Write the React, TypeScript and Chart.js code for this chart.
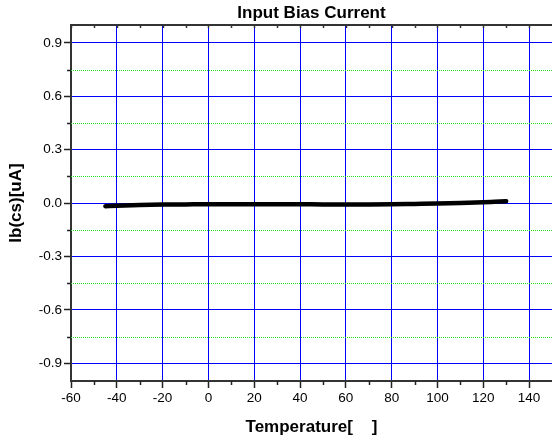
import React, { useEffect, useRef } from "react";
import { Chart, registerables } from "chart.js";

Chart.register(...registerables);

const temperatures = [-45, -40, -30, -20, -10, 0, 10, 20, 30, 40, 50, 60, 70, 80, 90, 100, 110, 120, 125, 130];
const biasCurrent = [-0.018, -0.015, -0.011, -0.009, -0.008, -0.007, -0.007, -0.007, -0.007, -0.007, -0.008, -0.008, -0.008, -0.007, -0.005, -0.003, 0.0, 0.004, 0.007, 0.01];

const xMajorTicks = [-60, -40, -20, 0, 20, 40, 60, 80, 100, 120, 140];
const xMinorTicks = [-50, -30, -10, 10, 30, 50, 70, 90, 110, 130];
const yMajorTicks = [-0.9, -0.6, -0.3, 0.0, 0.3, 0.6, 0.9];
const yMinorTicks = [-0.75, -0.45, -0.15, 0.15, 0.45, 0.75];
const yTickLabels = ["-0.9", "-0.6", "-0.3", "0.0", "0.3", "0.6", "0.9"];

const FONT = "Arial, 'Liberation Sans', sans-serif";

const minorPlugin = {
  id: "minorDecor",
  beforeDatasetsDraw(chart: any) {
    const { ctx, chartArea } = chart;
    const xs = chart.scales.x;
    const ys = chart.scales.y;
    ctx.save();
    // green dotted minor grid lines
    ctx.strokeStyle = "#22e022";
    ctx.lineWidth = 1;
    ctx.setLineDash([1, 1]);
    for (const v of yMinorTicks) {
      const y = Math.round(ys.getPixelForValue(v)) + 0.5;
      ctx.beginPath();
      ctx.moveTo(chartArea.left, y);
      ctx.lineTo(chartArea.right, y);
      ctx.stroke();
    }
    ctx.setLineDash([]);
    // minor ticks on left axis
    ctx.strokeStyle = "#222";
    ctx.lineWidth = 1.5;
    for (const v of yMinorTicks) {
      const y = Math.round(ys.getPixelForValue(v)) + 0.5;
      ctx.beginPath();
      ctx.moveTo(chartArea.left - 4, y);
      ctx.lineTo(chartArea.left, y);
      ctx.stroke();
    }
    // minor ticks on bottom axis
    for (const v of xMinorTicks) {
      const x = Math.round(xs.getPixelForValue(v)) + 0.5;
      ctx.beginPath();
      ctx.moveTo(x, chartArea.bottom);
      ctx.lineTo(x, chartArea.bottom + 4);
      ctx.stroke();
    }
    // top border with inward ticks
    ctx.strokeStyle = "#333";
    ctx.lineWidth = 2;
    ctx.beginPath();
    ctx.moveTo(chartArea.left - 1, chartArea.top);
    ctx.lineTo(chartArea.right, chartArea.top);
    ctx.stroke();
    ctx.lineWidth = 1.5;
    const allTop = [...xMajorTicks, ...xMinorTicks];
    for (const v of allTop) {
      const x = Math.round(xs.getPixelForValue(v)) + 0.5;
      ctx.beginPath();
      ctx.moveTo(x, chartArea.top);
      ctx.lineTo(x, chartArea.top + 3);
      ctx.stroke();
    }
    ctx.restore();
  },
};

export default function App() {
  const ref = useRef<HTMLCanvasElement | null>(null);
  useEffect(() => {
    if (!ref.current) return;
    const chart = new Chart(ref.current, {
      type: "line",
      data: {
        datasets: [
          {
            data: temperatures.map((t, i) => ({ x: t, y: biasCurrent[i] })),
            borderColor: "#000",
            borderWidth: 4.5,
            borderCapStyle: "round",
            borderJoinStyle: "round",
            pointRadius: 0,
            cubicInterpolationMode: "monotone",
            fill: false,
          },
        ],
      },
      plugins: [minorPlugin],
      options: {
        responsive: false,
        animation: false,
        layout: { padding: 0 },
        plugins: {
          legend: { display: false },
          tooltip: { enabled: false },
          title: {
            display: true,
            text: "Input Bias Current",
            fullSize: false,
            color: "#000",
            font: { family: FONT, size: 17, weight: "bold", lineHeight: 1.2 },
            padding: { top: 3, bottom: 1.6 },
          },
        },
        scales: {
          x: {
            type: "linear",
            min: -60,
            max: 150,
            afterBuildTicks: (scale: any) => {
              scale.ticks = xMajorTicks.map((v) => ({ value: v }));
            },
            afterFit: (scale: any) => {
              scale.height = 62;
            },
            ticks: {
              color: "#000",
              font: { family: FONT, size: 13.5 },
              padding: 2,
              maxRotation: 0,
              autoSkip: false,
              callback: (v: any) => String(v),
            },
            grid: {
              color: "#0000ff",
              lineWidth: 1,
              tickColor: "#222",
              tickLength: 7,
              tickWidth: 1.5,
            },
            border: { display: true, color: "#333", width: 2 },
            title: {
              display: true,
              text: "Temperature[    ]",
              color: "#000",
              font: { family: FONT, size: 17, weight: "bold", lineHeight: 1.2 },
              padding: { top: 0, bottom: 5.8 },
            },
          },
          y: {
            type: "linear",
            min: -1,
            max: 1,
            afterBuildTicks: (scale: any) => {
              scale.ticks = yMajorTicks.map((v) => ({ value: v }));
            },
            afterFit: (scale: any) => {
              scale.width = 71;
            },
            ticks: {
              color: "#000",
              font: { family: FONT, size: 13.5 },
              padding: 2,
              autoSkip: false,
              callback: (v: any) => {
                const i = yMajorTicks.findIndex((m) => Math.abs(m - v) < 1e-9);
                return i >= 0 ? yTickLabels[i] : "";
              },
            },
            grid: {
              color: "#0000ff",
              lineWidth: 1,
              tickColor: "#222",
              tickLength: 7,
              tickWidth: 1.5,
            },
            border: { display: true, color: "#333", width: 2 },
            title: {
              display: true,
              text: "Ib(cs)[uA]",
              color: "#000",
              font: { family: FONT, size: 17, weight: "bold", lineHeight: 1.2 },
              padding: { top: 6.5, bottom: 0 },
            },
          },
        },
      },
    } as any);
    return () => chart.destroy();
  }, []);
  return (
    <div style={{ position: "fixed", left: 0, top: 0, width: 552, height: 443, background: "#fff" }}>
      <canvas ref={ref} width={552} height={443} />
    </div>
  );
}
